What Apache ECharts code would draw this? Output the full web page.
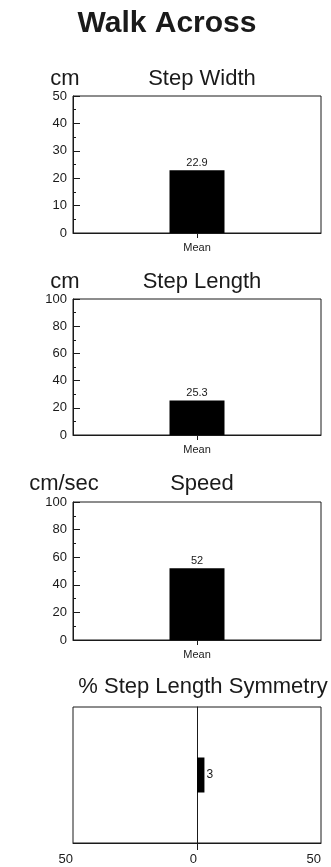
<!DOCTYPE html>
<html>
<head>
<meta charset="utf-8">
<script src="https://cdn.jsdelivr.net/npm/echarts@6/dist/echarts.min.js"></script>
<style>
  html, body { margin: 0; padding: 0; background: #fff; }
  #chart { width: 331px; height: 867px; }
</style>
</head>
<body>
<div id="chart"></div>
<script>
// data
var categories = ['Mean']
var stepWidth = [22.9]
var stepLength = [25.3]
var speed = [52]
var symmetry = [3]
var symmetryCategory = ['Symmetry']
var widthMax = 50
var lengthMax = 100
var speedMax = 100
var symmetryRange = [-50, 50]

var FONT = 'Liberation Sans, Arial, sans-serif'
var INK = '#1a1a1a'

// plot boxes (top, height); all share left 73, width 248
var boxes = [
  { top: 96, height: 137 },
  { top: 299, height: 136 },
  { top: 502, height: 138 },
  { top: 707, height: 136 }
]

function grid (b) {
  return {
    left: 73, width: 248, top: b.top, height: b.height,
    show: true, borderColor: INK, borderWidth: 1, backgroundColor: '#fff'
  }
}

function valueY (idx, max, interval) {
  return {
    type: 'value', gridIndex: idx, min: 0, max: max, interval: interval,
    axisLine: { show: true, lineStyle: { color: INK } },
    axisTick: { show: true, inside: true, length: 7, lineStyle: { color: INK } },
    minorTick: { show: true, splitNumber: 2, length: 3, lineStyle: { color: INK } },
    splitLine: { show: false },
    axisLabel: { color: INK, fontFamily: FONT, fontSize: 13, margin: 6 }
  }
}

function catX (idx) {
  return {
    type: 'category', gridIndex: idx, data: categories,
    axisLine: { show: true, lineStyle: { color: INK } },
    axisTick: { show: true, alignWithLabel: true, length: 5, lineStyle: { color: INK } },
    axisLabel: { color: INK, fontFamily: FONT, fontSize: 11, margin: 9 }
  }
}

function barSeries (idx, data) {
  return {
    type: 'bar', xAxisIndex: idx, yAxisIndex: idx, data: data, barWidth: 55,
    itemStyle: { color: '#000' },
    label: { show: true, position: 'top', distance: 2, color: INK, fontFamily: FONT, fontSize: 11 },
    silent: true
  }
}

function heading (text, x, y, size, bold) {
  return {
    text: text, left: x, top: y, textAlign: 'center',
    textStyle: { color: INK, fontFamily: FONT, fontSize: size, fontWeight: bold ? 'bold' : 'normal' }
  }
}

var option = {
  animation: false,
  backgroundColor: '#fff',
  title: [
    heading('Walk Across', 162, 4, 30, true),
    heading('cm', 60, 63, 22),
    heading('Step Width', 197, 63, 22),
    heading('cm', 60, 266, 22),
    heading('Step Length', 197, 266, 22),
    heading('cm/sec', 59, 468, 22),
    heading('Speed', 197, 468, 22),
    heading('% Step Length Symmetry', 198, 671, 22)
  ],
  grid: boxes.map(grid),
  xAxis: [
    catX(0), catX(1), catX(2),
    {
      type: 'value', gridIndex: 3, min: symmetryRange[0], max: symmetryRange[1], interval: 50,
      axisLine: { show: true, lineStyle: { color: INK } },
      axisTick: { show: true, length: 7, customValues: [0], lineStyle: { color: INK } },
      splitLine: { show: false },
      axisLabel: {
        color: INK, fontFamily: FONT, fontSize: 13, margin: 10, align: 'right',
        formatter: function (v) { return String(Math.abs(v)) }
      }
    }
  ],
  yAxis: [
    valueY(0, widthMax, 10),
    valueY(1, lengthMax, 20),
    valueY(2, speedMax, 20),
    {
      type: 'category', gridIndex: 3, data: symmetryCategory,
      axisLine: { show: true, onZero: true, lineStyle: { color: INK } },
      axisTick: { show: false },
      axisLabel: { show: false }
    }
  ],
  series: [
    barSeries(0, stepWidth),
    barSeries(1, stepLength),
    barSeries(2, speed),
    {
      type: 'bar', xAxisIndex: 3, yAxisIndex: 3, data: symmetry, barWidth: 35,
      itemStyle: { color: '#000' },
      label: { show: true, position: 'right', distance: 2, color: INK, fontFamily: FONT, fontSize: 12 },
      silent: true
    }
  ]
}

var myChart = echarts.init(document.getElementById('chart'))
myChart.setOption(option)
</script>
</body>
</html>
